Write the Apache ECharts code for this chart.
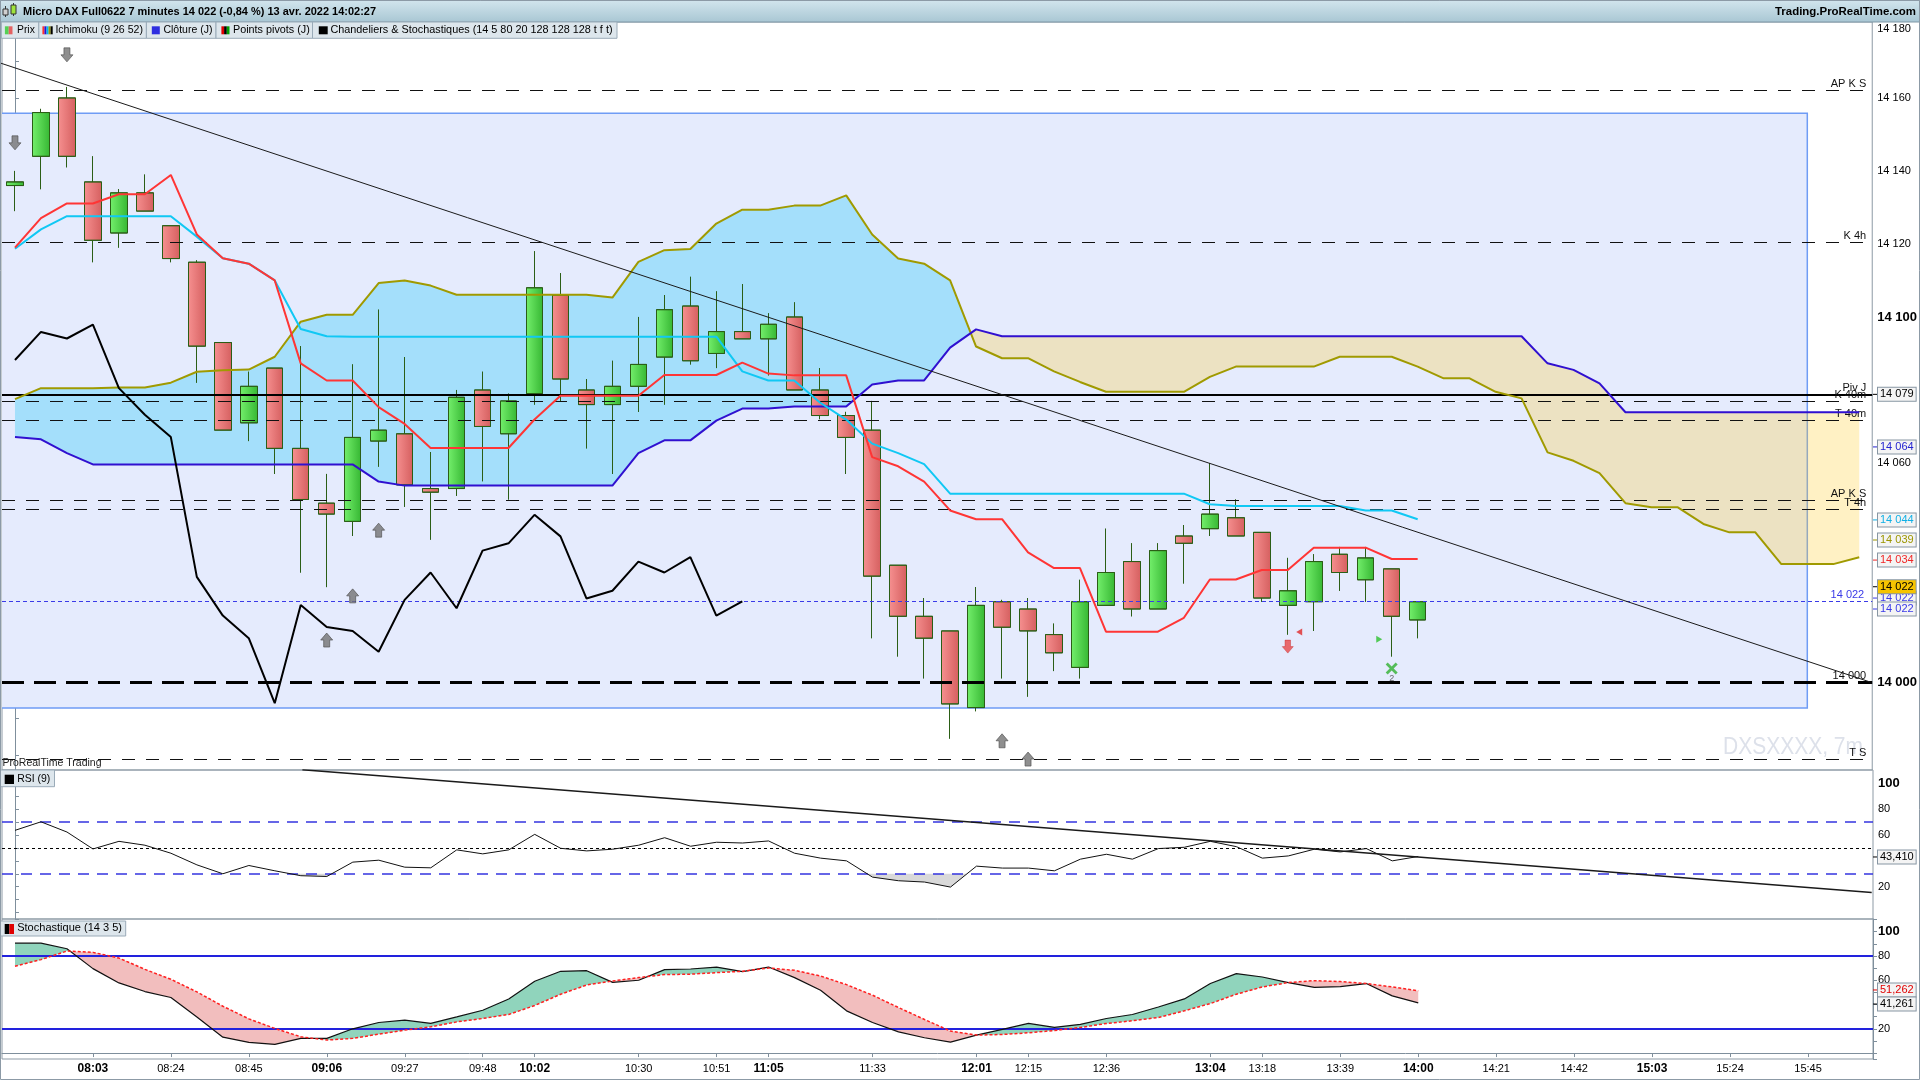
<!DOCTYPE html>
<html><head><meta charset="utf-8">
<script src="https://cdn.jsdelivr.net/npm/echarts@6/dist/echarts.min.js"></script>
<style>html,body{margin:0;padding:0;background:#fff}#c{width:1920px;height:1080px}</style>
</head><body><div id="c"></div>
<script>
// ---------------- DATA ----------------
const categories = ['07:42','07:49','07:56','08:03','08:10','08:17','08:24','08:31','08:38','08:45','08:52','08:59','09:06','09:13','09:20','09:27','09:34','09:41','09:48','09:55','10:02','10:09','10:16','10:23','10:30','10:37','10:44','10:51','10:58','11:05','11:12','11:19','11:26','11:33','11:40','11:47','11:54','12:01','12:08','12:15','12:22','12:29','12:36','12:43','12:50','12:57','13:04','13:11','13:18','13:25','13:32','13:39','13:46','13:53','14:00','14:07','14:14','14:21','14:28','14:35','14:42','14:49','14:56','15:03','15:10','15:17','15:24','15:31','15:38','15:45','15:52','15:59'];
const shownTimeLabels = ['08:03','08:24','08:45','09:06','09:27','09:48','10:02','10:30','10:51','11:05','11:33','12:01','12:15','12:36','13:04','13:18','13:39','14:00','14:21','14:42','15:03','15:24','15:45'];
const boldTimeLabels = ['08:03','09:06','10:02','11:05','12:01','13:04','14:00','15:03'];

const open  = [14136,14144,14160,14137,14123,14134,14125,14115,14093,14071,14086,14064,14049,14044,14066,14068,14053,14053,14080,14068,14079,14106,14080,14076,14081,14089,14103,14090,14096,14094,14100,14080,14073,14069,14032,14018,14014,13993,14022,14020,14013,14004,14021,14033,14020,14040,14042,14045,14041,14021,14022,14035,14028,14031,14017];
const close = [14137,14156,14144,14121,14134,14129,14116,14092,14069,14081,14064,14050,14046,14067,14069,14054,14052,14078,14070,14077,14108,14083,14076,14081,14087,14102,14088,14096,14094,14098,14080,14073,14067,14029,14018,14012,13994,14021,14015,14014,14008,14022,14030,14020,14036,14038,14046,14040,14023,14025,14033,14030,14034,14018,14022];
const low   = [14129,14135,14141,14115,14119,14129,14115,14082,14069,14066,14057,14030,14026,14040,14059,14048,14039,14051,14055,14050,14076,14077,14064,14057,14074,14076,14087,14086,14094,14084,14080,14072,14057,14012,14007,14001,13984.5,13992,14001,13996,14003,14001,14021,14018,14020,14027,14040,14040,14022,14013,14014,14025,14022,14007,14012];
const high  = [14140,14157,14163,14144,14135,14139,14125,14115.5,14093,14085,14086,14092,14057,14087,14102,14089,14063,14080,14085,14079,14118,14112,14083,14088,14100,14106,14111,14107,14109,14101,14104,14086,14074,14077,14032,14023,14014,14026,14022.5,14023,14016,14028,14042,14038,14038,14043,14060,14050,14041,14034,14035,14037,14037,14031,14022];

const tenkan = [14119,14127.1,14131.1,14131.1,14133.6,14133.6,14138.9,14122.6,14116.1,14114.6,14110,14087.3,14082.6,14082.6,14075.3,14070.7,14064.1,14064.1,14064.1,14064.1,14071.9,14078.4,14078.4,14078.4,14078.4,14084.1,14084.1,14084.1,14087.5,14084.5,14084,14084,14084,14061.6,14059.1,14054.9,14047,14044.6,14044.6,14035.5,14031.2,14031.2,14013.8,14013.8,14013.8,14017.6,14028.1,14028.1,14030.7,14030.7,14036.8,14036.8,14036.8,14033.7,14033.7];
const kijun = [14118.7,14124,14127.6,14127.6,14127.6,14127.6,14127.6,14122,14116.1,14114.6,14110,14096.7,14094.7,14094.6,14094.6,14094.6,14094.6,14094.6,14094.6,14094.6,14094.6,14094.6,14094.6,14094.6,14094.6,14094.6,14094.6,14094.6,14085.1,14082.6,14082.6,14076.5,14071.9,14065.3,14062.7,14059.7,14051.6,14051.6,14051.6,14051.6,14051.6,14051.6,14051.6,14051.6,14051.6,14051.6,14048.7,14048.2,14048.2,14048.2,14048.2,14048.2,14047,14047,14044.6];
const senkouA = [14077.5,14080.5,14080.5,14080.5,14080.7,14080.7,14082,14085,14085.4,14085.6,14089.1,14098.7,14100.6,14100.6,14109.3,14110,14108.6,14106.1,14106.1,14106.1,14106.1,14106.1,14106.1,14105.3,14115.1,14118.3,14118.6,14125.6,14129.4,14129.4,14130.5,14130.5,14133.3,14122.6,14116,14114.6,14110,14091.9,14088.7,14088.7,14085.1,14082.2,14079.5,14079.5,14079.5,14079.5,14083.6,14086.4,14086.4,14086.4,14086.4,14089.1,14089.1,14089.1,14086.4,14083.2,14083.2,14079.5,14077.7,14062.9,14060.6,14057.2,14049,14047.9,14047.9,14043.3,14041,14041,14032.3,14032.3,14032.3,14034.2];
const senkouB = [14067.1,14066.5,14062.7,14059.6,14059.6,14059.6,14059.6,14059.6,14059.6,14059.6,14059.6,14059.6,14059.6,14059.6,14054.9,14053.8,14053.8,14053.8,14053.8,14053.8,14053.8,14053.8,14053.8,14053.8,14062.7,14066.2,14066.2,14071.6,14074.9,14074.9,14075.5,14075.5,14075.5,14081.5,14082.6,14082.6,14091.6,14096.6,14094.7,14094.7,14094.7,14094.7,14094.7,14094.7,14094.7,14094.7,14094.7,14094.7,14094.7,14094.7,14094.7,14094.7,14094.7,14094.7,14094.7,14094.7,14094.7,14094.7,14094.7,14087.3,14085.5,14081.8,14073.9,14073.9,14073.9,14073.9,14073.9,14073.9,14073.9,14073.9,14073.9,14073.9];
const chikou = [14088.2,14095.9,14094.1,14097.9,14080.5,14073.2,14067.1,14028.8,14018.2,14012,13994.2,14021.1,14015.1,14014,14008.3,14022.5,14030,14020.2,14036,14038,14045.8,14039.9,14022.9,14025,14033,14030,14034.2,14018.2,14022.1];

const rsi = [63.6,70.2,62.3,49.2,55.1,52.1,45.9,36.9,30.0,36.4,32.3,28.5,27.9,39.0,40.5,35.1,34.6,48.5,45.4,48.5,60.5,49.7,47.7,49.0,52.1,57.9,51.3,54.4,53.8,55.4,45.9,42.1,40.0,27.4,24.6,23.6,19.7,35.9,34.4,34.4,32.3,41.3,45.1,41.3,49.5,50.5,55.1,51.0,42.1,43.8,49.0,46.9,49.5,40.0,43.4];
const stochK = [90.6,90.6,86.0,69.6,57.8,50.7,45.8,29.8,13.1,8.8,7.1,12.1,12.1,20.0,25.2,27.1,24.4,29.8,35.3,44.6,59.2,67.4,67.9,58.3,60.0,68.8,69.3,70.9,67.1,70.9,62.2,51.8,34.8,25.2,17.5,12.6,9.0,14.8,19.5,24.4,21.1,23.6,28.5,31.8,38.0,44.6,57.3,65.5,62.7,58.1,54.2,54.8,57.3,47.1,41.3];
const stochD = [71.5,77.0,84.1,83.0,78.3,69.0,60.8,50.4,38.6,28.2,20.3,13.4,10.7,12.1,15.6,18.9,21.6,25.7,28.5,31.8,39.2,48.5,56.1,59.4,62.2,64.7,65.0,66.3,67.4,70.1,68.2,63.5,56.4,47.7,37.5,27.7,18.1,14.8,15.3,16.7,18.6,21.1,24.4,26.6,29.3,34.8,40.8,48.5,54.5,58.1,59.7,58.9,57.3,54.5,51.3];

const pivotLevels = [14162,14120.5,14078.8,14076.9,14071.7,14049.8,14047.4,14000,13978.9];
const pivotLabels = ['AP K S','K 4h','Piv J','K 40m','T 40m','AP K S','T 4h','14 000','T S'];
const lastPrice = 14022;
const zoneBounds = [14155.8, 13992.9];
const zoneIndexRange = [-1, 69];
const trendPrice = [[-0.58,14169.6],[71.42,14000]];
const trendRsi = [[11.06,110.5],[71.45,15.6]];
const rsiLevels = [70,30,50];
const stochLevels = [80,20];

const arrowsDownGray = [[0,14147.7],[2,14171.8]];
const arrowsUpGray = [[12,14011.5],[13,14023.6],[14,14041.6],[38,13983.9],[39,13978.9]];
const arrowDownRed = [[49,14009.7]];
const triLeftRed = [[49.44,14013.7]];
const triRightGreen = [[52.52,14011.7]];
const crossGreen = [[53,14003.7]];

const priceBoxValues = [14078.8,14064.4,14044.4,14038.9,14033.4,14023,14026.1,14020];
const priceBoxTexts  = ['14 079','14 064','14 044','14 039','14 034','14 022','14 022','14 022'];
const rsiBoxValues = [43.0]; const rsiBoxTexts = ['43,410'];
const stochBoxValues = [52.0,40.4]; const stochBoxTexts = ['51,262','41,261'];

// ---------------- HELPERS ----------------
const FONT = '"Liberation Sans", Arial, sans-serif';
const chart = echarts.init(document.getElementById('c'), null, {renderer:'canvas'});
const mctx = document.createElement('canvas').getContext('2d');
function fitText(text, x, y, w, size, weight, color, align, z) {
  mctx.font = (weight||'normal') + ' ' + size + 'px ' + FONT;
  const mw = mctx.measureText(text).width || 1;
  return {type:'text', x:x, y:y, scaleX: w/mw, z: z||100, silent:true,
    style:{text:text, x:0, y:0, fontSize:size, fontWeight:weight||'normal', fontFamily:FONT, fill:color||'#000', align:align||'left', verticalAlign:'middle'}};
}
function fmtK(v){ const s = String(Math.round(v)); return s.slice(0,s.length-3)+' '+s.slice(-3); }

function fillRuns(api, a, b, colPos, colNeg) {
  const children = []; let run = null;
  const flush = () => {
    if (run && run.A.length > 1) {
      const col = run.sign > 0 ? colPos : colNeg;
      if (col) children.push({type:'polygon', shape:{points: run.A.concat(run.B.slice().reverse())}, style:{fill: col}});
    }
  };
  for (let i = 0; i < a.length; i++) {
    const bi = (typeof b === 'number') ? b : b[i];
    if (a[i] == null || bi == null) { flush(); run = null; continue; }
    const pa = api.coord([i, a[i]]), pb = api.coord([i, bi]);
    const d = a[i] - bi; const s = d > 0 ? 1 : (d < 0 ? -1 : 0);
    if (!run) { run = {sign:s, A:[pa], B:[pb], lastD:d, lastA:pa}; continue; }
    if (s !== 0 && run.sign !== 0 && s !== run.sign) {
      const t = run.lastD / (run.lastD - d);
      const c = [run.lastA[0] + t*(pa[0]-run.lastA[0]), run.lastA[1] + t*(pa[1]-run.lastA[1])];
      run.A.push(c); run.B.push(c); flush();
      run = {sign:s, A:[c, pa], B:[c, pb], lastD:d, lastA:pa};
    } else {
      if (run.sign === 0) run.sign = s;
      run.A.push(pa); run.B.push(pb); run.lastD = d; run.lastA = pa;
    }
  }
  flush();
  return {type:'group', children: children};
}
function fillSeries(xi, yi, a, b, cPos, cNeg, z) {
  return {type:'custom', xAxisIndex:xi, yAxisIndex:yi, z:z, silent:true, clip:true,
    data:[[0, (typeof b==='number'? b : a[0])]], encode:{x:0, y:1},
    renderItem:(params, api) => fillRuns(api, a, b, cPos, cNeg)};
}
const arrowDownPath = 'path://M3,0 L9,0 L9,7 L12,7 L6,14 L0,7 L3,7 Z';
const arrowUpPath = 'path://M6,0 L12,7 L9,7 L9,14 L3,14 L3,7 L0,7 Z';
const crossPath = 'path://M2,0 L6,4 L10,0 L12,2 L8,6 L12,10 L10,12 L6,8 L2,12 L0,10 L4,6 L0,2 Z';

const candleData = open.map((o,i) => [o, close[i], low[i], high[i]]);
const greenGrad = new echarts.graphic.LinearGradient(0,0,1,0,[{offset:0,color:'#74ef6c'},{offset:1,color:'#36b733'}]);
const redGrad = new echarts.graphic.LinearGradient(0,0,1,0,[{offset:0,color:'#f69090'},{offset:1,color:'#d55f5f'}]);

const thinDash = [13,11];
function pivotStyle(k){
  if (pivotLabels[k]==='Piv J') return {type:'solid', color:'#000', width:2};
  if (pivotLabels[k]==='14 000') return {type:[22,10], color:'#000', width:3};
  return {type:thinDash, color:'#111', width:1};
}
const pivotMarks = pivotLevels.map((v,k) => ({yAxis:v, lineStyle:pivotStyle(k),
  label:{show:true, position:'insideEndTop', formatter:pivotLabels[k], color:'#111', fontSize:11, fontFamily:FONT, distance:[6,1]}}));
pivotMarks.push({yAxis:lastPrice, lineStyle:{type:[4,3], color:'#3a3ae8', width:1},
  label:{show:true, position:'insideEndTop', formatter:fmtK(lastPrice), color:'#3a3ae8', fontSize:11, fontFamily:FONT, distance:[8,1]}});

const boxColors = ['#000','#2424d0','#10b0e6','#9c9600','#f02828','#3a3ae8','#000','#3a3ae8'];
const boxBgs = ['#f4f4f4','#f4f4f4','#f4f4f4','#f4f4f4','#f4f4f4','#f4f4f4','#f6c400','#f4f4f4'];

const lineS = (name, data, color, width, z, extra) => Object.assign({name, type:'line', xAxisIndex:0, yAxisIndex:0, data, showSymbol:false, symbol:'none', z:z||6, silent:true,
  lineStyle:{color, width}}, extra||{});

const axisGray = '#7f8f9c';
function yAxisBase(gi, min, max, split, fmt){
  return {type:'value', gridIndex:gi, position:'right', min, max, splitNumber:split, minInterval:20, maxInterval:20,
    axisLine:{show:true, lineStyle:{color:axisGray}}, axisTick:{show:true, length:4, lineStyle:{color:axisGray}},
    minorTick:{show:true, splitNumber:2, length:4, lineStyle:{color:axisGray}}, splitLine:{show:false},
    axisLabel:{show:true, color:'#000', fontSize:11, fontFamily:FONT, margin:5, formatter:fmt,
      rich:{b:{fontWeight:'bold', fontSize:13, fontFamily:FONT, color:'#000'}, t:{fontSize:11, fontFamily:FONT, color:'#000', padding:[9,0,0,0]}}}};
}
const priceFmt = v => {
  if (Math.abs(v % 20) > 1e-6) return '';
  if ([14080,14040,14020,13980].indexOf(v) >= 0) return '';
  if (v === 14180) return '{t|'+fmtK(v)+'}';
  return v % 100 === 0 ? '{b|'+fmtK(v)+'}' : fmtK(v);
};
const oscFmt = v => v === 100 ? '{b|100}' : ([80,60,20].indexOf(v) >= 0 ? String(v) : '');

// ---------------- GRAPHICS ----------------
const graphics = [];
graphics.push({type:'rect', z:90, silent:true, shape:{x:0,y:0,width:1920,height:22},
  style:{fill:new echarts.graphic.LinearGradient(0,0,0,1,[{offset:0,color:'#d3e6ee'},{offset:1,color:'#a8c6d3'}]), stroke:'#7f97a6', lineWidth:1}});
graphics.push({type:'line', z:100, shape:{x1:5.5,y1:6,x2:5.5,y2:17}, style:{stroke:'#333', lineWidth:1}});
graphics.push({type:'rect', z:101, shape:{x:3,y:9,width:5,height:6}, style:{fill:'#d0d0d0', stroke:'#333', lineWidth:1}});
graphics.push({type:'line', z:100, shape:{x1:13.5,y1:3,x2:13.5,y2:16}, style:{stroke:'#333', lineWidth:1}});
graphics.push({type:'rect', z:101, shape:{x:11,y:5,width:5,height:9}, style:{fill:'#9fe33c', stroke:'#333', lineWidth:1}});
graphics.push(fitText('Micro DAX Full0622 7 minutes 14 022 (-0,84 %) 13 avr. 2022 14:02:27', 23, 12, 353, 11, 'bold', '#000'));
graphics.push(fitText('Trading.ProRealTime.com', 1916, 12, 141, 11, 'bold', '#000', 'right'));
const legendBoxes = [
  {x0:1.3, x1:38.8, ix:[4.9,12.5], text:'Prix', t:[17,34.8], cols:['#55d055','#e46262']},
  {x0:38.8, x1:146.4, ix:[42.4,52.7], text:'Ichimoku (9 26 52)', t:[55.4,142.9], cols:['#ff3030','#2a10d0','#00b8f0','#a09a00','#000']},
  {x0:146.4, x1:216, ix:[151.8,159.8], text:'Clôture (J)', t:[163.4,212.5], cols:['#2e2ee0']},
  {x0:216, x1:312.5, ix:[221.4,229.5], text:'Points pivots (J)', t:[233,309.8], cols:['#e00000','#000','#00a000']},
  {x0:312.5, x1:617, ix:[318.8,327.7], text:'Chandeliers & Stochastiques (14 5 80 20 128 128 128 t f t)', t:[330.4,612.5], cols:['#000']}
];
function legendBox(b, y0, y1, iy0, iy1, ty){
  graphics.push({type:'rect', z:95, silent:true, shape:{x:b.x0, y:y0, width:b.x1-b.x0, height:y1-y0}, style:{fill:'#dde6ec', stroke:'#9aabb8', lineWidth:1}});
  const w = (b.ix[1]-b.ix[0]) / b.cols.length;
  b.cols.forEach((c,k) => graphics.push({type:'rect', z:96, silent:true, shape:{x:b.ix[0]+k*w, y:iy0, width:w, height:iy1-iy0}, style:{fill:c}}));
  graphics.push(fitText(b.text, b.t[0], ty, b.t[1]-b.t[0], 11, 'normal', '#000'));
}
legendBoxes.forEach(b => legendBox(b, 22, 38.3, 26.3, 34.3, 30.3));
legendBox({x0:0.5, x1:54.5, ix:[4.7,14], text:'RSI (9)', t:[17.2,50.3], cols:['#000']}, 770, 786.7, 774.7, 784, 779.3);
legendBox({x0:0.5, x1:125.7, ix:[4.7,14], text:'Stochastique (14 3 5)', t:[17.2,122], cols:['#000','#e00000']}, 921, 936, 924, 934, 928.3);
graphics.push(fitText('ProRealTime Trading', 2.5, 763, 99, 10, 'normal', '#222'));
graphics.push(fitText('DXSXXXX, 7m', 1723, 747, 140, 24, 'normal', '#dde1ea', 'left', 1));
graphics.push({type:'rect', z:120, silent:true, shape:{x:0.5,y:0.5,width:1919,height:1079}, style:{fill:null, stroke:'#8c9aa6', lineWidth:1}});

// ---------------- OPTION ----------------
const gridStyle = {left:2, right:47, show:true, borderColor:'#8d9aa5', borderWidth:1, backgroundColor:'transparent'};
const hiddenCat = gi => ({type:'category', gridIndex:gi, data:categories, boundaryGap:true, axisLine:{show:false}, axisTick:{show:false}, axisLabel:{show:false}, splitLine:{show:false}});
const labelInterval = (idx, val) => shownTimeLabels.indexOf(val) >= 0;

const option = {
  animation:false,
  backgroundColor:'#ffffff',
  textStyle:{fontFamily:FONT},
  grid:[
    Object.assign({top:22, height:748}, gridStyle),
    Object.assign({top:770, height:149}, gridStyle),
    Object.assign({top:919, height:140}, gridStyle)
  ],
  xAxis:[
    hiddenCat(0), hiddenCat(1),
    {type:'category', gridIndex:2, data:categories, boundaryGap:true,
      axisLine:{show:true, lineStyle:{color:axisGray}},
      axisTick:{show:true, alignWithLabel:true, interval:labelInterval, length:4, lineStyle:{color:axisGray}},
      axisLabel:{show:true, interval:labelInterval, color:'#000', fontSize:11, fontFamily:FONT, margin:4,
        formatter: v => boldTimeLabels.indexOf(v) >= 0 ? '{b|'+v+'}' : v,
        rich:{b:{fontWeight:'bold', fontSize:12, fontFamily:FONT, color:'#000'}}},
      splitLine:{show:false}},
    {type:'value', gridIndex:0, min:-0.5, max:71.5, show:false},
    {type:'value', gridIndex:1, min:-0.5, max:71.5, show:false}
  ],
  yAxis:[
    yAxisBase(0, 13975.9, 14180.8, 10, priceFmt),
    yAxisBase(1, -5, 110.3, 6, oscFmt),
    yAxisBase(2, -4.9, 110.5, 6, oscFmt)
  ],
  graphic: graphics,
  series:[
    {type:'custom', name:'zone', xAxisIndex:3, yAxisIndex:0, z:1, silent:true, clip:true,
      data:[[zoneIndexRange[0], zoneBounds[0]]], encode:{x:0, y:1},
      renderItem:(params, api) => {
        const tl = api.coord([zoneIndexRange[0], zoneBounds[0]]), br = api.coord([zoneIndexRange[1], zoneBounds[1]]);
        return {type:'rect', shape:{x:tl[0], y:tl[1], width:br[0]-tl[0], height:br[1]-tl[1]}, style:{fill:'#e5ebfd', stroke:'#6f9cf5', lineWidth:1.5}};
      }},
    fillSeries(0, 0, senkouA, senkouB, 'rgba(100,212,250,0.5)', 'rgba(255,204,37,0.27)', 2),
    {type:'candlestick', name:'Prix', xAxisIndex:0, yAxisIndex:0, z:3, data:candleData, barWidth:17, silent:true,
      itemStyle:{color:greenGrad, color0:redGrad, borderColor:'#2b5e16', borderColor0:'#2b5e16', borderWidth:1},
      markLine:{silent:true, symbol:'none', z:4, animation:false, data:pivotMarks}},
    lineS('senkouA', senkouA, '#a09a00', 2, 6),
    lineS('senkouB', senkouB, '#3010d0', 2, 6),
    lineS('kijun', kijun, '#10c8f4', 2, 6),
    lineS('tenkan', tenkan, '#ff3535', 2, 6),
    lineS('chikou', chikou, '#000000', 2, 6),
    {type:'line', name:'trend', xAxisIndex:3, yAxisIndex:0, data:trendPrice, showSymbol:false, symbol:'none', clip:true, z:7, silent:true, lineStyle:{color:'#1a1a1a', width:1}},
    {type:'scatter', xAxisIndex:3, yAxisIndex:0, z:8, silent:true, data:arrowsDownGray, symbol:arrowDownPath, symbolSize:[12,14], itemStyle:{color:'#737373', borderColor:'#4d4d4d', borderWidth:0.8}},
    {type:'scatter', xAxisIndex:3, yAxisIndex:0, z:8, silent:true, data:arrowsUpGray, symbol:arrowUpPath, symbolSize:[12,14], itemStyle:{color:'#737373', borderColor:'#4d4d4d', borderWidth:0.8}},
    {type:'scatter', xAxisIndex:3, yAxisIndex:0, z:8, silent:true, data:arrowDownRed, symbol:arrowDownPath, symbolSize:[11,13], itemStyle:{color:'#e84848', borderColor:'#c02020', borderWidth:0.5}},
    {type:'scatter', xAxisIndex:3, yAxisIndex:0, z:8, silent:true, data:triLeftRed, symbol:'triangle', symbolRotate:90, symbolSize:[7,6], itemStyle:{color:'#e02828'}},
    {type:'scatter', xAxisIndex:3, yAxisIndex:0, z:8, silent:true, data:triRightGreen, symbol:'triangle', symbolRotate:-90, symbolSize:[7,6], itemStyle:{color:'#2cc02c'}},
    {type:'scatter', xAxisIndex:3, yAxisIndex:0, z:8, silent:true, data:crossGreen, symbol:crossPath, symbolSize:12, itemStyle:{color:'#2fb02f'},
      label:{show:true, position:'bottom', distance:0, formatter:'2', fontSize:9, color:'#444', fontFamily:FONT}},
    fillSeries(1, 1, rsi, 30, null, '#d9d9d9', 2),
    {type:'line', name:'RSI', xAxisIndex:1, yAxisIndex:1, data:rsi, showSymbol:false, symbol:'none', z:5, silent:true, lineStyle:{color:'#111', width:1},
      markLine:{silent:true, symbol:'none', z:4, animation:false, data:[
        {yAxis:rsiLevels[0], lineStyle:{type:[11,8], color:'#3535e0', width:1.5}, label:{show:false}},
        {yAxis:rsiLevels[1], lineStyle:{type:[11,8], color:'#3535e0', width:1.5}, label:{show:false}},
        {yAxis:rsiLevels[2], lineStyle:{type:[3,3], color:'#000', width:1}, label:{show:false}}
      ]}},
    {type:'line', name:'trendRsi', xAxisIndex:4, yAxisIndex:1, data:trendRsi, showSymbol:false, symbol:'none', clip:true, z:6, silent:true, lineStyle:{color:'#1a1a1a', width:1.5}},
    fillSeries(2, 2, stochK, stochD, '#90d4bc', '#f2bebe', 2),
    {type:'line', name:'K', xAxisIndex:2, yAxisIndex:2, data:stochK, showSymbol:false, symbol:'none', z:5, silent:true, lineStyle:{color:'#111', width:1.2},
      markLine:{silent:true, symbol:'none', z:4, animation:false, data:[
        {yAxis:stochLevels[0], lineStyle:{type:'solid', color:'#2222dd', width:2}, label:{show:false}},
        {yAxis:stochLevels[1], lineStyle:{type:'solid', color:'#2222dd', width:2}, label:{show:false}}
      ]}},
    {type:'line', name:'D', xAxisIndex:2, yAxisIndex:2, data:stochD, showSymbol:false, symbol:'none', z:5, silent:true, lineStyle:{color:'#ff2020', width:1.5, type:[3,2]}}
  ]
};
chart.setOption(option);

// value boxes on the right axes, positioned through the axes' scales
const boxes = [];
function addBox(yAxisIndex, v, text, color, bg){
  const y = chart.convertToPixel({yAxisIndex: yAxisIndex}, v);
  boxes.push({type:'line', z:108, silent:true, shape:{x1:1873, y1:y, x2:1878, y2:y}, style:{stroke:color, lineWidth:1}});
  boxes.push({type:'text', x:1878, y:y, z:110, silent:true,
    style:{text:text, x:0, y:0, fontSize:11, fontFamily:FONT, fill:color, backgroundColor:bg, borderColor:'#8796a3', borderWidth:1,
      padding:[1,2,0,2], align:'left', verticalAlign:'middle', lineHeight:12}});
}
priceBoxValues.forEach((v,k) => addBox(0, v, priceBoxTexts[k], boxColors[k], boxBgs[k]));
rsiBoxValues.forEach((v,k) => addBox(1, v, rsiBoxTexts[k], '#000', '#f4f4f4'));
addBox(2, stochBoxValues[0], stochBoxTexts[0], '#e00000', '#f4f4f4');
addBox(2, stochBoxValues[1], stochBoxTexts[1], '#000', '#f4f4f4');
chart.setOption({graphic: graphics.concat(boxes)});
</script>
</body></html>
